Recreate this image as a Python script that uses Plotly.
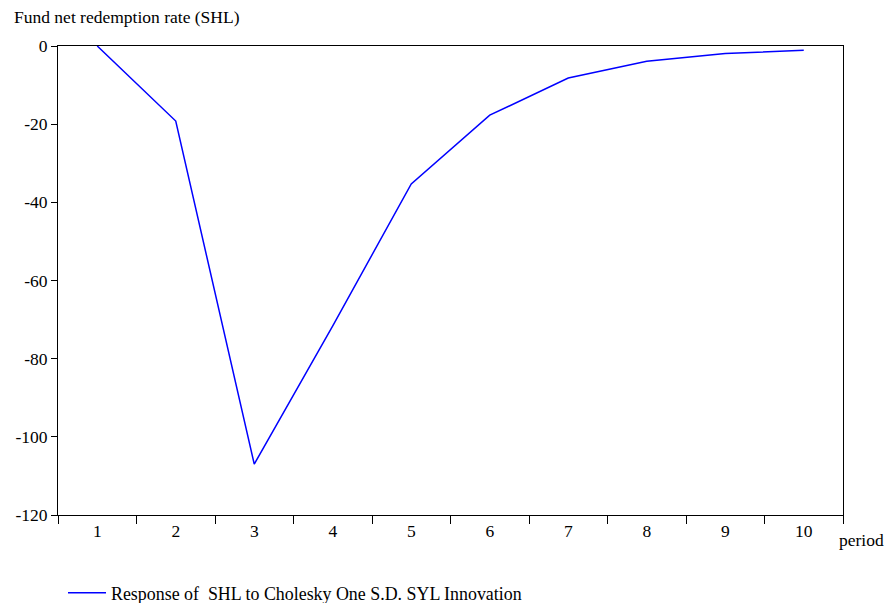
import plotly.graph_objects as go

periods = ["1", "2", "3", "4", "5", "6", "7", "8", "9", "10"]
response = [0.0, -19.2, -107.0, -71.6, -35.3, -17.7, -8.2, -3.9, -1.9, -1.1]
y_ticks = [0, -20, -40, -60, -80, -100, -120]
y_tick_text = ["0", "-20", "-40", "-60", "-80", "-100", "-120"]

W, H = 892, 603
L, T = 58, 46
R = W - 843
B = H - 515
pw, ph = W - L - R, H - T - B

font = dict(family="Liberation Serif, Times New Roman, serif", size=17.5, color="black")
legend_font = dict(family="Liberation Serif, Times New Roman, serif", size=17.9, color="black")

fig = go.Figure()
fig.add_trace(go.Scatter(
    x=periods, y=response, mode="lines",
    line=dict(color="#0000ff", width=1.5),
    name="Response of  SHL to Cholesky One S.D. SYL Innovation",
))

fig.update_layout(
    width=W, height=H,
    margin=dict(l=L, r=R, t=T, b=B, autoexpand=False),
    paper_bgcolor="white", plot_bgcolor="white",
    font=font,
    showlegend=True,
    legend=dict(orientation="h", xref="container", yref="container",
                x=63 / W, xanchor="left",
                y=1 - 593 / H, yanchor="middle", itemwidth=38,
                font=legend_font, bgcolor="rgba(0,0,0,0)"),
    xaxis=dict(type="category", tickson="boundaries", ticks="outside", ticklen=8,
               tickcolor="black", showline=True, linecolor="black", mirror=True,
               showgrid=False, zeroline=False, tickfont=font, range=[-0.5, 9.5],
               automargin=False),
    yaxis=dict(range=[-120, 0], tickvals=y_ticks, ticktext=y_tick_text,
               ticks="outside", ticklen=6,
               tickcolor="black", showline=True, linecolor="black", mirror=True,
               showgrid=False, zeroline=False, tickfont=font, automargin=False),
    annotations=[
        dict(text="Fund net redemption rate (SHL)", xref="paper", yref="paper",
             x=(12 - L) / pw, y=1 + (T - 17) / ph, xanchor="left", yanchor="middle",
             showarrow=False, font=font),
        dict(text="period", xref="paper", yref="paper",
             x=(837 - L) / pw, y=-(540 - 515) / ph, xanchor="left", yanchor="middle",
             showarrow=False, font=font),
    ],
)

fig.write_html("out.html", config={"displayModeBar": False},
               post_script="document.body.style.margin='0';")
